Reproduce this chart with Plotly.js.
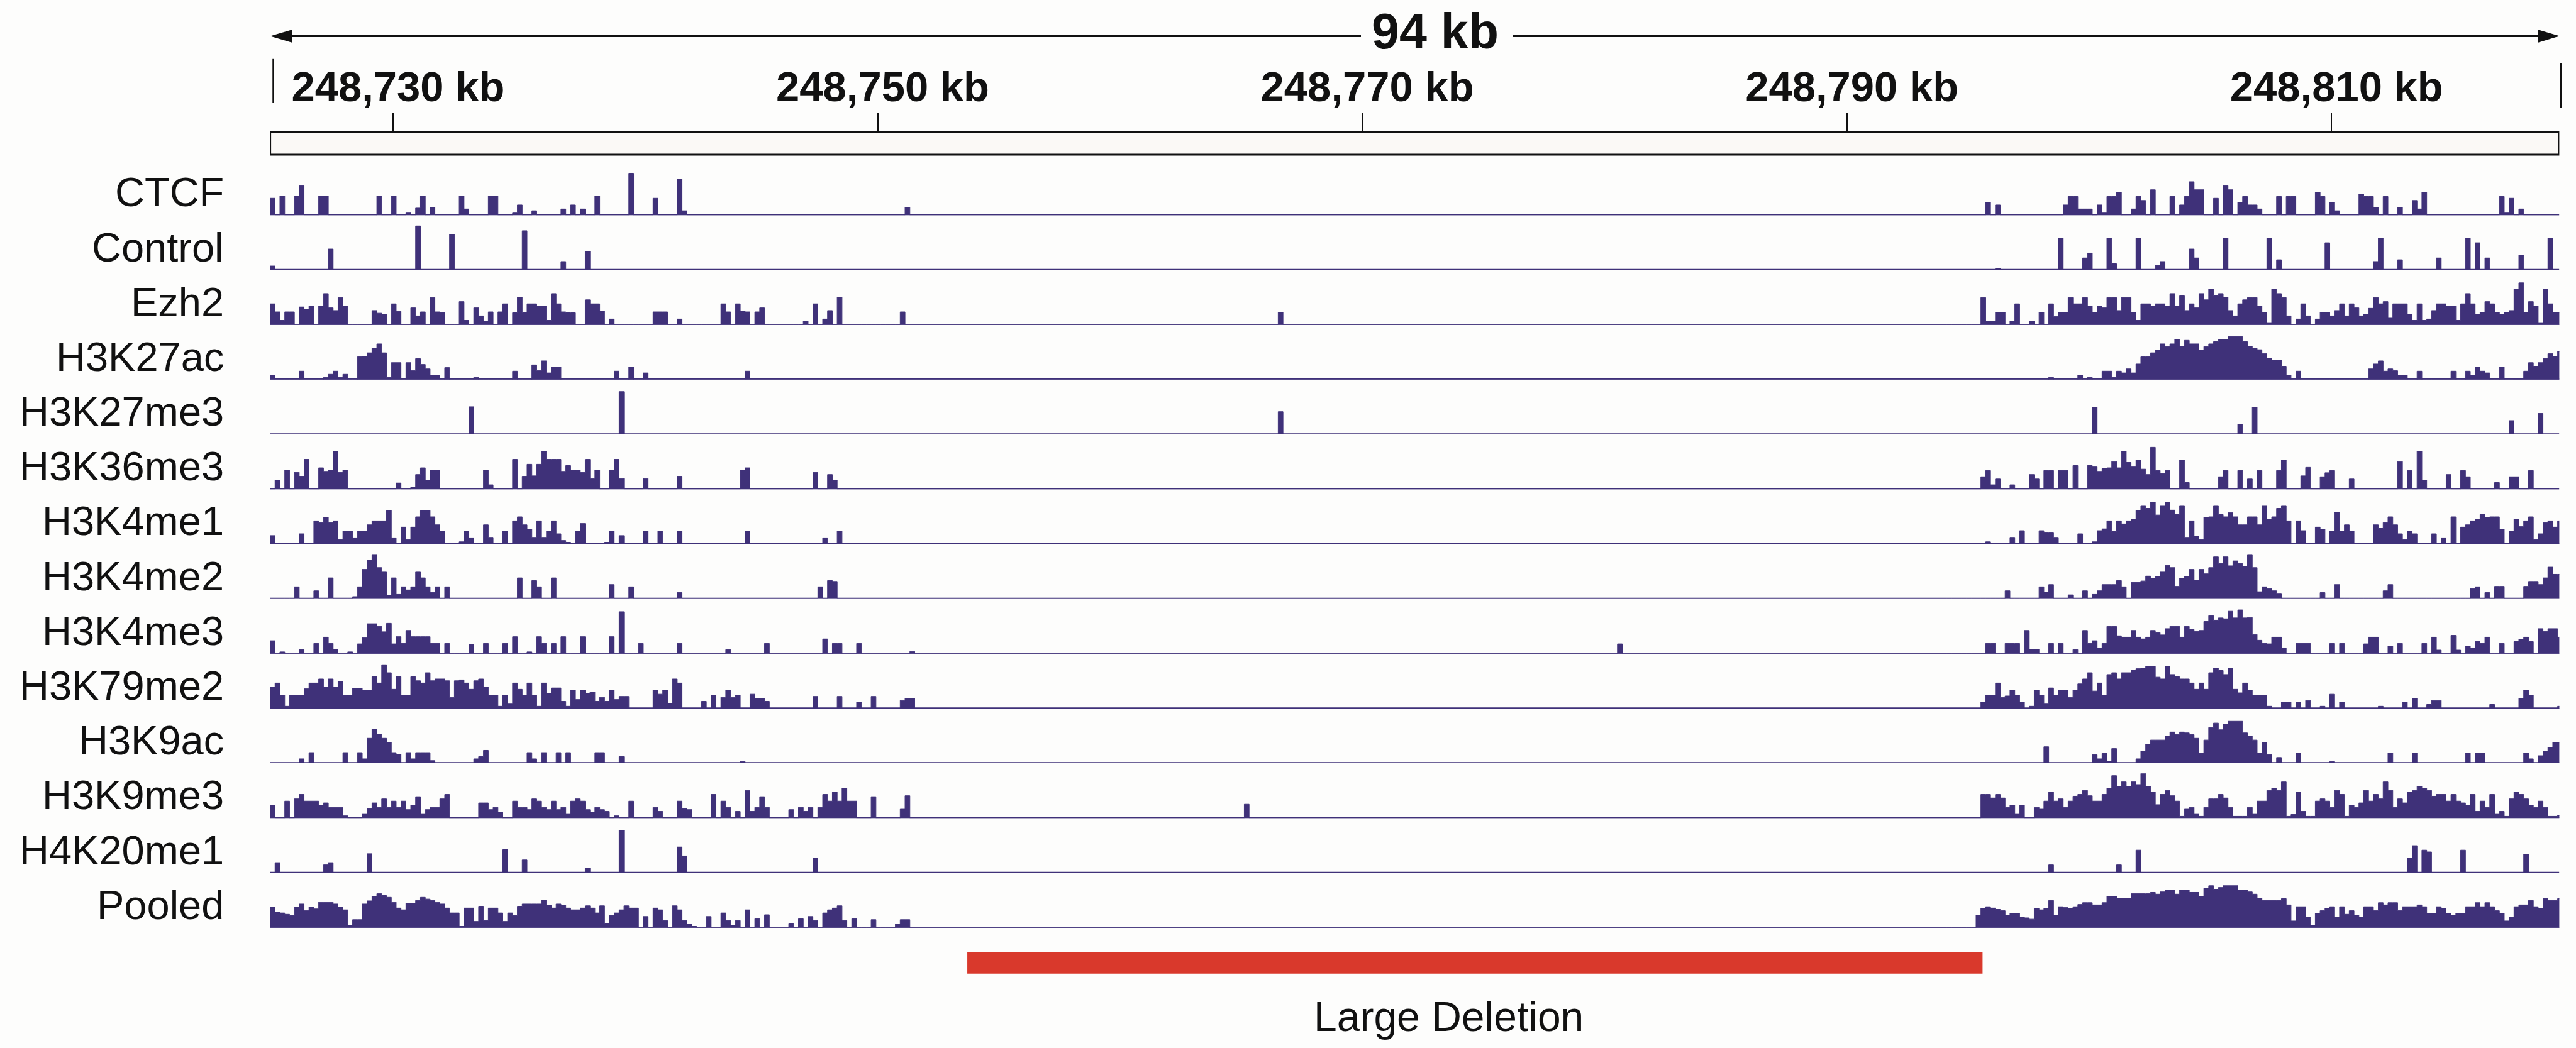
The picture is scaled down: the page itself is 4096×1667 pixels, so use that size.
<!DOCTYPE html>
<html>
<head>
<meta charset="utf-8">
<script src="https://cdn.plot.ly/plotly-3.0.1.min.js"></script>
<style>
  html, body { margin: 0; padding: 0; background: #fdfdfc; }
  #chart { width: 4096px; height: 1667px; }
</style>
</head>
<body>
<div id="chart"></div>
<script>
// ---- genomic view ----
const VIEW_START_KB = 248724.93;
const VIEW_END_KB = 248819.40;
const BIN_KB = 0.2;            // signal bins are 200 bp wide, bin 0 starts at VIEW_START_KB

const TICK_KB = [248730, 248750, 248770, 248790, 248810];
const TICK_LABELS = ['248,730 kb', '248,750 kb', '248,770 kb', '248,790 kb', '248,810 kb'];

const DELETION_KB = [248753.7, 248795.6];
const DELETION_LABEL = 'Large Deletion';

const TRACK_NAMES = ['CTCF', 'Control', 'Ezh2', 'H3K27ac', 'H3K27me3', 'H3K36me3', 'H3K4me1',
  'H3K4me2', 'H3K4me3', 'H3K79me2', 'H3K9ac', 'H3K9me3', 'H4K20me1', 'Pooled'];

// ---- signal (percent of track scale), stored as runs: [firstBin, v, v, ...] ----
const CTCF = [
  [0, 38, 0, 43], [5, 43, 66], [10, 43, 43], [22, 43], [25, 43], [28, 5, 0, 16, 43, 0, 18],
  [39, 43, 14], [45, 43, 43], [50, 5, 23, 0, 0, 10], [60, 14, 0, 23, 0, 14, 0, 0, 43], [74, 94],
  [79, 38], [84, 81, 10], [131, 18],
  [354, 29, 0, 23], [370, 23, 42, 42, 14, 14, 14], [377, 23, 5, 42, 42, 51], [384, 14, 42, 33],
  [388, 57], [392, 42], [394, 23, 42, 75, 57, 57], [401, 38], [403, 66, 57], [406, 29, 42, 23, 23, 14],
  [414, 42], [416, 42, 42], [422, 51, 42], [425, 29, 10], [431, 47, 42, 42, 18], [436, 42], [439, 18],
  [442, 33, 14, 51], [460, 42, 5, 38], [464, 14]
];

const CONTROL = [
  [0, 9], [12, 47], [30, 99], [37, 80], [52, 88], [60, 19], [65, 42],
  [356, 4], [369, 71], [374, 27, 38], [379, 71, 14], [385, 71], [389, 10, 19], [396, 47, 27],
  [403, 71], [412, 71], [414, 23], [424, 61], [434, 19, 71], [439, 23], [447, 27], [453, 71],
  [455, 61], [457, 27], [464, 33], [470, 71]
];

const EZH2 = [
  [0,
    47, 29, 10, 29, 29, 0, 40, 35, 42, 0,
    42, 70, 38, 32, 61, 42, 0, 0, 0, 0,
    0, 32, 26, 24, 0, 47, 30, 0, 0, 38,
    20, 29, 0, 61, 29, 27, 0, 0, 0, 52,
    10, 0, 38, 20, 8, 29, 0, 29, 47, 0,
    27, 62, 27, 47, 47, 42, 42, 10, 70, 47,
    29, 27, 27, 0, 0, 56, 47, 47, 31, 0,
    13, 0, 0, 0, 0, 0, 0, 0, 0, 29,
    29, 29, 0, 0, 13, 0, 0, 0, 0, 0,
    0, 0, 0, 47, 29, 0, 47, 31, 29, 0,
    29, 38, 0, 0, 0, 0, 0, 0, 0, 0,
    8, 0, 47, 0, 13, 32, 0, 62, 0, 0,
    0, 0, 0, 0, 0, 0, 0, 0, 0, 0,
    29],
  [208, 28],
  [346,
    0, 0, 0, 0, 0, 0, 0, 61, 8, 8,
    28, 28, 0, 8, 47, 0, 0, 8, 0, 28,
    0, 47, 19, 28, 28, 61, 47, 47, 61, 42,
    28, 42, 38, 61, 61, 32, 61, 61, 28, 10,
    47, 47, 42, 47, 47, 42, 70, 42, 65, 32,
    47, 38, 70, 56, 80, 65, 70, 62, 32, 20,
    47, 56, 61, 61, 42, 28, 5, 80, 70, 61,
    20, 0, 13, 47, 20, 0, 13, 28, 28, 20,
    32, 47, 20, 47, 38, 20, 24, 37, 61, 47,
    52, 15, 47, 47, 47, 24, 10, 47, 10, 13,
    32, 47, 47, 42, 42, 10, 47, 70, 47, 24,
    28, 52, 47, 28, 24, 28, 32, 80, 94, 28,
    52, 42, 5, 80, 47, 28, 28]
];

const H3K27AC = [
  [0,
    10, 0, 0, 0, 0, 0, 19, 0, 0, 0,
    0, 5, 12, 19, 5, 12, 0, 0, 51, 52,
    60, 70, 80, 60, 5, 38, 38, 0, 38, 20,
    47, 34, 24, 10, 10, 0, 27, 0, 0, 0,
    0, 0, 5, 0, 0, 0, 0, 0, 0, 0,
    19, 0, 0, 0, 33, 20, 42, 15, 28, 28,
    0, 0, 0, 0, 0, 0, 0, 0, 0, 0,
    0, 19, 0, 0, 28, 0, 0, 15],
  [98, 19],
  [366,
    0, 5, 0, 0, 0, 0, 0, 10, 0, 5,
    0, 0, 19, 19, 5, 19, 15, 24, 15, 35,
    51, 51, 60, 66, 80, 74, 80, 90, 75, 88,
    80, 80, 66, 74, 80, 85, 90, 90, 96, 96,
    96, 85, 75, 70, 67, 58, 48, 44, 44, 30,
    10, 0, 19, 0, 0, 0, 0, 0, 0, 0,
    0, 0, 0, 0, 0, 0, 0, 24, 35, 42,
    19, 24, 20, 10, 10, 0, 0, 19, 0, 0,
    0, 0, 0, 0, 19, 0, 0, 19, 10, 28,
    19, 15, 0, 0, 28, 0, 0, 3, 3, 19,
    38, 30, 38, 47, 58, 52, 63]
];

const H3K27ME3 = [
  [41, 62], [72, 96], [208, 51],
  [376, 61], [406, 23], [409, 61], [462, 31], [468, 47]
];

const H3K36ME3 = [
  [0,
    0, 20, 0, 43, 0, 38, 29, 67, 0, 0,
    48, 40, 43, 85, 38, 43, 0, 0, 0, 0,
    0, 0, 0, 0, 0, 0, 14, 0, 0, 5,
    33, 48, 20, 43, 43, 0, 0, 0, 0, 0,
    0, 0, 0, 0, 43, 10, 0, 0, 0, 0,
    67, 0, 29, 56, 30, 56, 85, 67, 67, 67,
    40, 53, 43, 43, 38, 67, 24, 43, 0, 0,
    43, 67, 24, 0, 0, 0, 0, 24, 0, 0,
    0, 0, 0, 0, 29, 0, 0, 0, 0, 0,
    0, 0, 0, 0, 0, 0, 0, 43, 48, 0],
  [112, 38, 0, 0, 33, 20],
  [346,
    0, 0, 0, 0, 0, 0, 0, 28, 42, 10,
    23, 0, 0, 10, 0, 0, 0, 33, 23, 0,
    42, 42, 0, 42, 42, 0, 53, 0, 0, 53,
    50, 40, 46, 48, 62, 48, 85, 60, 50, 65,
    45, 33, 94, 42, 35, 42, 0, 0, 65, 15,
    0, 0, 0, 0, 0, 0, 28, 42, 0, 0,
    42, 0, 23, 0, 42, 0, 0, 0, 42, 65,
    0, 0, 0, 30, 49, 0, 0, 28, 37, 42,
    0, 0, 0, 23, 0, 0, 0, 0, 0, 0,
    0, 0, 0, 62, 0, 42, 0, 85, 20, 0,
    0, 0, 0, 33, 0, 0, 42, 28, 0, 0,
    0, 0, 0, 15, 0, 0, 28, 28, 0, 0,
    42]
];

const H3K4ME1 = [
  [0,
    19, 0, 0, 0, 0, 0, 23, 0, 0, 52,
    48, 60, 48, 52, 10, 29, 29, 14, 29, 29,
    43, 52, 52, 52, 75, 14, 0, 38, 10, 38,
    61, 75, 75, 61, 43, 29, 0, 0, 0, 5,
    29, 14, 0, 0, 43, 15, 0, 0, 29, 0,
    52, 61, 43, 33, 15, 52, 15, 29, 52, 23,
    8, 4, 0, 29, 46, 0, 0, 0, 0, 4,
    29, 0, 19, 0, 0, 0, 0, 29, 0, 0,
    29, 0, 0, 0, 29],
  [98, 29], [114, 14, 0, 0, 29],
  [346,
    0, 0, 0, 0, 0, 0, 0, 0, 5, 0,
    0, 0, 0, 15, 0, 30, 0, 0, 0, 30,
    25, 25, 15, 0, 0, 0, 0, 23, 0, 0,
    5, 30, 34, 52, 28, 52, 45, 52, 56, 75,
    85, 80, 94, 65, 85, 94, 76, 66, 85, 15,
    52, 18, 10, 60, 61, 85, 66, 61, 70, 61,
    43, 43, 61, 61, 43, 85, 56, 61, 80, 85,
    52, 0, 52, 30, 0, 0, 38, 33, 0, 29,
    71, 29, 43, 29, 0, 0, 0, 0, 43, 35,
    48, 61, 43, 23, 10, 29, 23, 0, 0, 0,
    23, 0, 14, 0, 61, 0, 38, 43, 52, 56,
    66, 60, 61, 61, 33, 0, 29, 56, 39, 52,
    61, 10, 23, 48, 52, 38, 52]
];

const H3K4ME2 = [
  [0,
    0, 0, 0, 0, 0, 27, 0, 0, 0, 18,
    0, 0, 47, 0, 0, 0, 0, 5, 27, 66,
    87, 98, 70, 60, 8, 47, 10, 27, 20, 27,
    60, 47, 27, 14, 27, 0, 27],
  [51, 47, 0, 0, 41, 27, 0, 0, 47], [70, 32], [74, 27], [84, 14], [113, 27, 0, 41, 39],
  [346,
    0, 0, 0, 0, 0, 0, 0, 0, 0, 0,
    0, 0, 18, 0, 0, 0, 0, 0, 0, 27,
    15, 32, 0, 0, 0, 9, 0, 0, 18, 0,
    10, 18, 32, 32, 32, 41, 27, 0, 37, 37,
    40, 51, 46, 50, 60, 75, 70, 28, 46, 50,
    66, 42, 66, 56, 70, 94, 79, 94, 74, 85,
    79, 73, 98, 70, 16, 27, 23, 18, 11, 0,
    0, 0, 0, 0, 0, 0, 0, 14, 0, 0,
    32, 0, 0, 0, 0, 0, 0, 0, 0, 0,
    18, 32, 0, 0, 0, 0, 0, 0, 0, 0,
    0, 0, 0, 0, 0, 0, 0, 0, 23, 27,
    0, 14, 0, 28, 28, 0, 0, 0, 0, 28,
    39, 39, 32, 47, 71, 55, 55]
];

const H3K4ME3 = [
  [0,
    29, 0, 4, 0, 0, 0, 9, 0, 0, 23,
    0, 37, 23, 10, 0, 0, 4, 0, 22, 36,
    67, 67, 61, 49, 68, 22, 38, 23, 52, 38,
    38, 38, 38, 23, 23, 0, 23, 0, 0, 0,
    0, 20, 0, 0, 23, 0, 0, 0, 23, 0,
    38, 0, 0, 4, 0, 38, 23, 0, 23, 0,
    38, 0, 0, 0, 38, 0, 0, 0, 0, 0,
    38, 0, 94, 0, 0, 0, 23],
  [84, 23], [94, 9], [102, 23], [114, 33, 0, 23, 23], [121, 23], [132, 5], [278, 22],
  [346,
    0, 0, 0, 0, 0, 0, 0, 0, 23, 23,
    0, 0, 23, 23, 23, 0, 52, 10, 10, 0,
    0, 23, 0, 23, 0, 0, 9, 0, 52, 23,
    29, 13, 23, 61, 61, 40, 37, 37, 52, 37,
    33, 37, 52, 47, 42, 56, 61, 61, 37, 61,
    54, 50, 52, 72, 85, 75, 80, 78, 95, 80,
    98, 80, 81, 43, 30, 23, 22, 37, 37, 13,
    0, 0, 23, 23, 23, 0, 0, 0, 0, 23,
    0, 23, 0, 0, 0, 0, 22, 37, 37, 0,
    0, 17, 0, 23, 0, 0, 0, 0, 23, 0,
    37, 8, 0, 0, 41, 8, 0, 17, 13, 27,
    23, 37, 0, 0, 23, 0, 0, 27, 32, 37,
    27, 0, 56, 50, 56, 56, 37]
];

const H3K79ME2 = [
  [0,
    48, 57, 30, 5, 30, 30, 30, 44, 57, 57,
    66, 48, 66, 48, 61, 30, 30, 45, 45, 41,
    41, 71, 57, 98, 80, 43, 71, 30, 30, 71,
    62, 57, 80, 62, 66, 66, 62, 25, 62, 64,
    57, 43, 62, 66, 48, 30, 30, 5, 30, 10,
    57, 43, 30, 57, 30, 5, 57, 34, 46, 46,
    16, 5, 41, 20, 41, 34, 37, 16, 25, 16,
    41, 20, 27, 27, 0, 0, 0, 0, 0, 41,
    32, 41, 11, 66, 57, 0, 0, 0, 0, 16,
    0, 30, 0, 25, 41, 25, 30, 0, 0, 32,
    23, 23, 16],
  [112, 27], [117, 27], [121, 14], [124, 27], [130, 18, 23, 23],
  [346,
    0, 0, 0, 0, 0, 0, 0, 14, 30, 30,
    57, 25, 28, 41, 30, 14, 0, 5, 41, 30,
    10, 46, 30, 41, 41, 25, 41, 55, 66, 80,
    39, 57, 30, 76, 80, 66, 80, 80, 85, 89,
    90, 94, 94, 70, 66, 94, 76, 71, 66, 66,
    57, 43, 57, 43, 80, 90, 85, 76, 90, 43,
    35, 57, 41, 30, 30, 30, 5, 0, 0, 14,
    14, 0, 14, 0, 18, 0, 0, 5, 0, 32,
    0, 14, 0, 0, 0, 0, 0, 0, 0, 5,
    0, 0, 0, 0, 14, 0, 23, 0, 0, 9,
    18, 18, 0, 0, 0, 0, 0, 0, 0, 0,
    0, 0, 9, 0, 0, 0, 0, 0, 23, 41,
    30, 0, 0, 0, 0, 0, 5]
];

const H3K9AC = [
  [0,
    0, 0, 0, 0, 0, 0, 10, 0, 24, 0,
    0, 0, 0, 0, 0, 24, 0, 0, 24, 10,
    56, 76, 65, 56, 47, 24, 20, 0, 24, 10,
    24, 24, 24, 6, 0, 0, 0, 0, 0, 0,
    0, 0, 10, 15, 29, 0, 0, 0, 0, 0,
    0, 0, 0, 24, 10, 0, 24, 0, 0, 24,
    0, 24, 0, 0, 0, 0, 0, 24, 24, 0,
    0, 0, 15],
  [97, 4],
  [366,
    37, 0, 0, 0, 0, 0, 0, 0, 0, 0,
    19, 10, 22, 5, 33, 0, 0, 0, 0, 10,
    27, 43, 52, 52, 52, 61, 70, 64, 70, 68,
    64, 56, 22, 52, 80, 90, 75, 88, 94, 94,
    94, 68, 61, 52, 23, 47, 19, 0, 13, 0,
    0, 0, 23, 0, 0, 0, 0, 0, 0, 4,
    0, 0, 0, 0, 0, 0, 0, 0, 0, 0,
    0, 23, 0, 0, 0, 0, 23, 0, 0, 0,
    0, 0, 0, 0, 0, 0, 0, 23, 0, 23,
    23, 0, 0, 0, 0, 0, 0, 0, 0, 23,
    10, 0, 17, 27, 36, 47, 47]
];

const H3K9ME3 = [
  [0,
    29, 0, 0, 38, 0, 43, 53, 38, 38, 38,
    29, 34, 24, 24, 24, 5, 0, 0, 0, 10,
    21, 34, 24, 43, 24, 38, 24, 38, 19, 29,
    48, 10, 19, 24, 24, 43, 53, 0, 0, 0,
    0, 0, 0, 34, 34, 19, 24, 13, 0, 0,
    38, 24, 24, 19, 43, 38, 24, 19, 38, 19,
    24, 10, 38, 43, 38, 19, 13, 24, 19, 15,
    0, 5, 0, 0, 38, 0, 0, 0, 0, 24,
    15, 0, 0, 0, 38, 21, 19, 0, 0, 0,
    0, 53, 0, 38, 24, 0, 15, 0, 62, 15,
    24, 48, 24, 0, 0, 0, 0, 19, 0, 24,
    15, 24, 0, 24, 53, 38, 58, 38, 67, 38,
    38, 0, 0, 0, 48, 0, 0, 0, 0, 0,
    20, 50],
  [201, 31],
  [346,
    0, 0, 0, 0, 0, 0, 0, 53, 53, 45,
    53, 45, 24, 29, 10, 29, 0, 0, 24, 20,
    38, 58, 38, 43, 24, 38, 49, 53, 62, 50,
    38, 38, 53, 67, 95, 71, 81, 71, 81, 75,
    100, 71, 58, 30, 53, 62, 50, 38, 4, 20,
    24, 10, 4, 24, 43, 43, 53, 45, 24, 4,
    4, 4, 24, 10, 38, 38, 62, 67, 62, 81,
    4, 8, 58, 15, 4, 4, 38, 43, 38, 24,
    62, 53, 4, 29, 24, 34, 62, 38, 53, 43,
    81, 62, 24, 43, 34, 58, 62, 71, 67, 62,
    49, 53, 53, 38, 53, 38, 34, 29, 53, 15,
    38, 24, 53, 10, 15, 4, 43, 58, 53, 43,
    29, 24, 38, 24, 4, 4, 6]
];

const H4K20ME1 = [
  [1, 23], [11, 18, 23], [20, 43], [48, 52], [52, 29], [65, 11], [72, 95], [84, 58, 38], [112, 33],
  [367, 18], [381, 18], [385, 51], [441, 33, 61], [444, 51, 47], [452, 51], [465, 42]
];

const POOLED = [
  [0,
    46, 35, 33, 30, 27, 46, 53, 38, 46, 42,
    57, 57, 57, 53, 46, 40, 5, 18, 18, 53,
    60, 70, 76, 72, 68, 57, 44, 40, 55, 55,
    61, 68, 64, 61, 57, 53, 44, 33, 33, 3,
    44, 44, 14, 48, 16, 44, 44, 33, 14, 33,
    27, 48, 53, 53, 53, 53, 62, 50, 44, 53,
    50, 44, 40, 40, 44, 49, 44, 33, 49, 10,
    27, 33, 40, 49, 44, 44, 0, 25, 0, 44,
    40, 16, 0, 49, 40, 16, 8, 3, 0, 0,
    25, 0, 0, 33, 16, 5, 16, 0, 40, 0,
    20, 0, 29, 0, 0, 0, 0, 10, 0, 20,
    0, 25, 16, 0, 33, 40, 44, 49, 16, 0,
    20, 0, 0, 0, 18, 0, 0, 0, 0, 8,
    18, 18],
  [346,
    0, 0, 0, 0, 0, 0, 28, 43, 47, 44,
    41, 38, 28, 32, 32, 24, 22, 19, 43, 40,
    43, 61, 28, 47, 45, 43, 47, 52, 56, 56,
    51, 51, 56, 70, 70, 66, 66, 66, 76, 76,
    76, 76, 79, 75, 80, 84, 84, 75, 84, 84,
    79, 79, 70, 88, 94, 86, 90, 94, 94, 94,
    84, 84, 80, 75, 66, 61, 61, 61, 61, 65,
    51, 15, 47, 47, 24, 5, 32, 38, 43, 47,
    24, 47, 30, 38, 28, 24, 47, 47, 38, 56,
    51, 56, 56, 38, 47, 47, 47, 51, 47, 32,
    32, 47, 43, 32, 28, 32, 32, 47, 47, 56,
    47, 56, 47, 38, 32, 15, 24, 47, 51, 51,
    61, 47, 43, 65, 61, 61, 65]
];

const TRACK_SIGNALS = [CTCF, CONTROL, EZH2, H3K27AC, H3K27ME3, H3K36ME3, H3K4ME1,
  H3K4ME2, H3K4ME3, H3K79ME2, H3K9AC, H3K9ME3, H4K20ME1, POOLED];

// ---- drawing ----
const W = 4096, H = 1667;
const FONT = 'Liberation Sans, Arial, Helvetica, sans-serif';
const INK = '#111111';
const SIGNAL_COLOR = '#3f3179';
const RED = '#d9392c';

const px = x => x / W;           // pixel -> paper (x)
const py = y => 1 - y / H;       // pixel -> paper (y)

const PLOT_X0 = 429.6, PLOT_X1 = 4069.4;
const FIRST_BASE = 342.3, TRACK_STEP = 87.18, TRACK_H = 71.06;

// bedGraph-like runs -> stepped outline along the genome
function stepOutline(runs) {
  const xs = [VIEW_START_KB], ys = [0];
  runs.slice().sort((a, b) => a[0] - b[0]).forEach(run => {
    const b0 = run[0];
    for (let j = 1; j < run.length; j++) {
      xs.push(VIEW_START_KB + (b0 + j - 1) * BIN_KB);
      ys.push(run[j]);
    }
    xs.push(VIEW_START_KB + (b0 + run.length - 1) * BIN_KB);
    ys.push(0);
  });
  xs.push(VIEW_END_KB); ys.push(0);
  return { xs, ys };
}

const data = [];
const layout = {
  width: W, height: H,
  margin: { l: 0, r: 0, t: 0, b: 0, pad: 0 },
  paper_bgcolor: '#fdfdfc',
  plot_bgcolor: 'rgba(0,0,0,0)',
  showlegend: false,
  font: { family: FONT, color: INK },
  xaxis: {
    domain: [px(PLOT_X0), px(PLOT_X1)],
    range: [VIEW_START_KB, VIEW_END_KB],
    anchor: 'free', position: py(210.4), side: 'top',
    showgrid: false, zeroline: false, showline: false,
    tickmode: 'array', tickvals: TICK_KB, ticktext: TICK_LABELS,
    ticks: 'outside', ticklen: 31, tickwidth: 2, tickcolor: INK,
    tickfont: { family: FONT, size: 67, color: INK, weight: 'bold' },
    ticklabelstandoff: -8, ticklabelshift: 8,
    fixedrange: true
  },
  shapes: [],
  annotations: []
};

TRACK_NAMES.forEach((name, i) => {
  const base = FIRST_BASE + TRACK_STEP * i;
  const axisId = i === 0 ? 'y' : 'y' + (i + 1);
  const axisKey = i === 0 ? 'yaxis' : 'yaxis' + (i + 1);
  layout[axisKey] = {
    domain: [py(base), py(base - TRACK_H)],
    range: [0, 100], visible: false, fixedrange: true, anchor: 'x'
  };
  const o = stepOutline(TRACK_SIGNALS[i]);
  data.push({
    type: 'scatter', mode: 'lines', x: o.xs, y: o.ys,
    xaxis: 'x', yaxis: axisId,
    line: { shape: 'hv', width: 1, color: SIGNAL_COLOR },
    fill: 'tozeroy', fillcolor: SIGNAL_COLOR,
    hoverinfo: 'skip'
  });
  // track baseline
  layout.shapes.push({
    type: 'line', xref: 'x', yref: axisId,
    x0: VIEW_START_KB, x1: VIEW_END_KB, y0: 0, y1: 0,
    line: { color: SIGNAL_COLOR, width: 3.5 }
  });
  layout.annotations.push({
    text: name, xref: 'paper', yref: 'paper',
    x: px(358), y: py(base - 36.4), xanchor: 'right', yanchor: 'middle',
    showarrow: false, font: { family: FONT, size: 65, color: INK }
  });
});

// ruler: span arrow, end marks, coordinate bar
const ARROW_Y = 57.4;
const spanText = Math.round(VIEW_END_KB - VIEW_START_KB) + ' kb';
layout.shapes.push(
  { type: 'line', xref: 'paper', yref: 'paper', x0: px(455), x1: px(2164), y0: py(ARROW_Y), y1: py(ARROW_Y),
    line: { color: INK, width: 3 } },
  { type: 'line', xref: 'paper', yref: 'paper', x0: px(2405), x1: px(4045), y0: py(ARROW_Y), y1: py(ARROW_Y),
    line: { color: INK, width: 3 } },
  { type: 'path', xref: 'paper', yref: 'paper', fillcolor: INK, line: { width: 0 },
    path: `M ${px(429.6)} ${py(ARROW_Y)} L ${px(465)} ${py(ARROW_Y - 10.5)} L ${px(465)} ${py(ARROW_Y + 10.5)} Z` },
  { type: 'path', xref: 'paper', yref: 'paper', fillcolor: INK, line: { width: 0 },
    path: `M ${px(4070)} ${py(ARROW_Y)} L ${px(4035)} ${py(ARROW_Y - 10.5)} L ${px(4035)} ${py(ARROW_Y + 10.5)} Z` },
  { type: 'line', xref: 'paper', yref: 'paper', x0: px(434.5), x1: px(434.5), y0: py(93.8), y1: py(164),
    line: { color: INK, width: 2.5 } },
  { type: 'line', xref: 'paper', yref: 'paper', x0: px(4072), x1: px(4072), y0: py(100), y1: py(171),
    line: { color: INK, width: 2.5 } },
  { type: 'rect', xref: 'x', yref: 'paper', x0: VIEW_START_KB, x1: VIEW_END_KB, y0: py(210.4), y1: py(246),
    fillcolor: '#fbf9f6', line: { color: INK, width: 3 } }
);
layout.annotations.push({
  text: spanText, xref: 'paper', yref: 'paper', x: px(2282), y: py(49.6),
  xanchor: 'center', yanchor: 'middle', showarrow: false,
  font: { family: FONT, size: 79, color: INK, weight: 'bold' }
});

// deleted interval
layout.shapes.push({
  type: 'rect', xref: 'x', yref: 'paper', x0: DELETION_KB[0], x1: DELETION_KB[1],
  y0: py(1548.7), y1: py(1515), fillcolor: RED, line: { width: 0 }
});
layout.annotations.push({
  text: DELETION_LABEL, xref: 'paper', yref: 'paper', x: px(2303), y: py(1617),
  xanchor: 'center', yanchor: 'middle', showarrow: false,
  font: { family: FONT, size: 66, color: INK }
});

Plotly.newPlot('chart', data, layout, { staticPlot: true, displayModeBar: false });
</script>
</body>
</html>
